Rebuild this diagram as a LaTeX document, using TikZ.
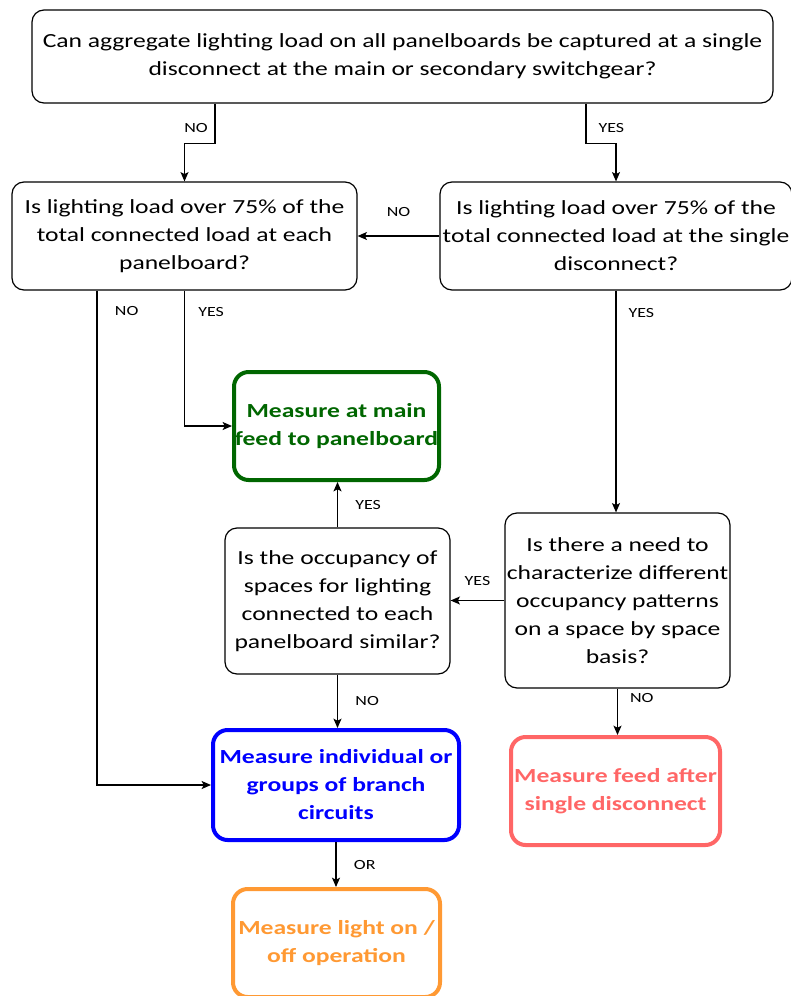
\documentclass[tikz,border=0pt]{standalone}
\usepackage{fontspec}
\setmainfont{Carlito}[FakeStretch=1.28]
\usetikzlibrary{positioning,calc,arrows.meta}
\definecolor{feedgreen}{HTML}{006600}
\definecolor{branchblue}{HTML}{0000FF}
\definecolor{afterred}{HTML}{FF6666}
\definecolor{lightorange}{HTML}{FF9933}
\begin{document}
\begin{tikzpicture}[
     x=0.75pt, y=-0.75pt,
     % define styles
     question/.style={
         draw, rounded corners=9pt, line width=0.9pt,
         align=center, inner sep=0pt,
         font=\fontsize{15}{21}\selectfont
     },
     measure/.style={
         question, line width=3pt, rounded corners=11pt,
         font=\fontsize{15}{21}\selectfont\bfseries
     },
     answer/.style={
         font=\fontsize{10.5}{12}\selectfont,
         inner sep=2pt
     },
     >={Stealth[length=7pt,width=6pt,inset=1.5pt]}
]
\useasboundingbox (0,0) rectangle (791,996);

% questions
\node[question, minimum width=555.75pt, minimum height=69.75pt] (top) at (402.5,56.5)
    {Can aggregate lighting load on all panelboards be captured at a single\\disconnect at the main or secondary switchgear?};
\node[question, minimum width=258.75pt, minimum height=81pt] (lq) at (184.5,236)
    {Is lighting load over 75\% of the\\total connected load at each\\panelboard?};
\node[question, minimum width=264pt, minimum height=81pt] (rq) at (616,236)
    {Is lighting load over 75\% of the\\total connected load at the single\\disconnect?};
\node[question, minimum width=168.75pt, minimum height=109.5pt] (occ) at (337.5,601)
    {Is the occupancy of\\spaces for lighting\\connected to each\\panelboard similar?};
\node[question, minimum width=168.75pt, minimum height=131.25pt] (need) at (617.5,600.5)
    {Is there a need to\\characterize different\\occupancy patterns\\on a space by space\\basis?};

% outcomes
\node[measure, draw=feedgreen, text=feedgreen, minimum width=153.75pt, minimum height=81pt] (feed) at (336.5,426)
    {Measure at main\\feed to panelboard};
\node[measure, draw=branchblue, text=branchblue, minimum width=184.5pt, minimum height=82.5pt] (branch) at (336,785)
    {Measure individual or\\groups of branch\\circuits};
\node[measure, draw=afterred, text=afterred, minimum width=156.75pt, minimum height=81pt] (after) at (615.5,791)
    {Measure feed after\\single disconnect};
\node[measure, draw=lightorange, text=lightorange, minimum width=155.25pt, minimum height=81pt] (onoff) at (336.5,943)
    {Measure light on /\\off operation};

% top question
\draw[->, line width=0.9pt] ($(top.south)+(-187.5,0)$) -- node[answer, left=3pt, pos=0.6] {NO} ++(0,40) -| (lq.north);
\draw[->, line width=0.9pt] ($(top.south)+(183.5,0)$) -- node[answer, right=7pt, pos=0.6] {YES} ++(0,40) -| (rq.north);
% 75% questions
\draw[->, line width=0.9pt] (rq.west) -- node[answer, above=12pt] {NO} (lq.east);
\draw[->, line width=0.9pt] ($(lq.south)+(-87.5,0)$) |- node[answer, right=11pt, pos=0.021] {NO} (branch.west);
\draw[->, line width=0.9pt] (lq.south) |- node[answer, right=8pt, pos=0.08] {YES} (feed.west);
\draw[->, line width=0.9pt] (rq.south) -- node[answer, right=7pt, pos=0.1] {YES} (rq.south |- need.north);
% occupancy questions
\draw[->, line width=0.9pt] (need.west) -- node[answer, above=9pt] {YES} (need.west -| occ.east);
\draw[->, line width=0.9pt] (occ.north) -- node[answer, right=11pt] {YES} (occ.north |- feed.south);
\draw[->, line width=0.9pt] (occ.south) -- node[answer, right=11pt] {NO} (occ.south |- branch.north);
\draw[->, line width=0.9pt] (need.south) -- node[answer, right=7pt, pos=0.2] {NO} (need.south |- after.north);
% branch circuits
\draw[->, line width=0.9pt] (branch.south) -- node[answer, right=11pt] {OR} (branch.south |- onoff.north);

\end{tikzpicture}
\end{document}
